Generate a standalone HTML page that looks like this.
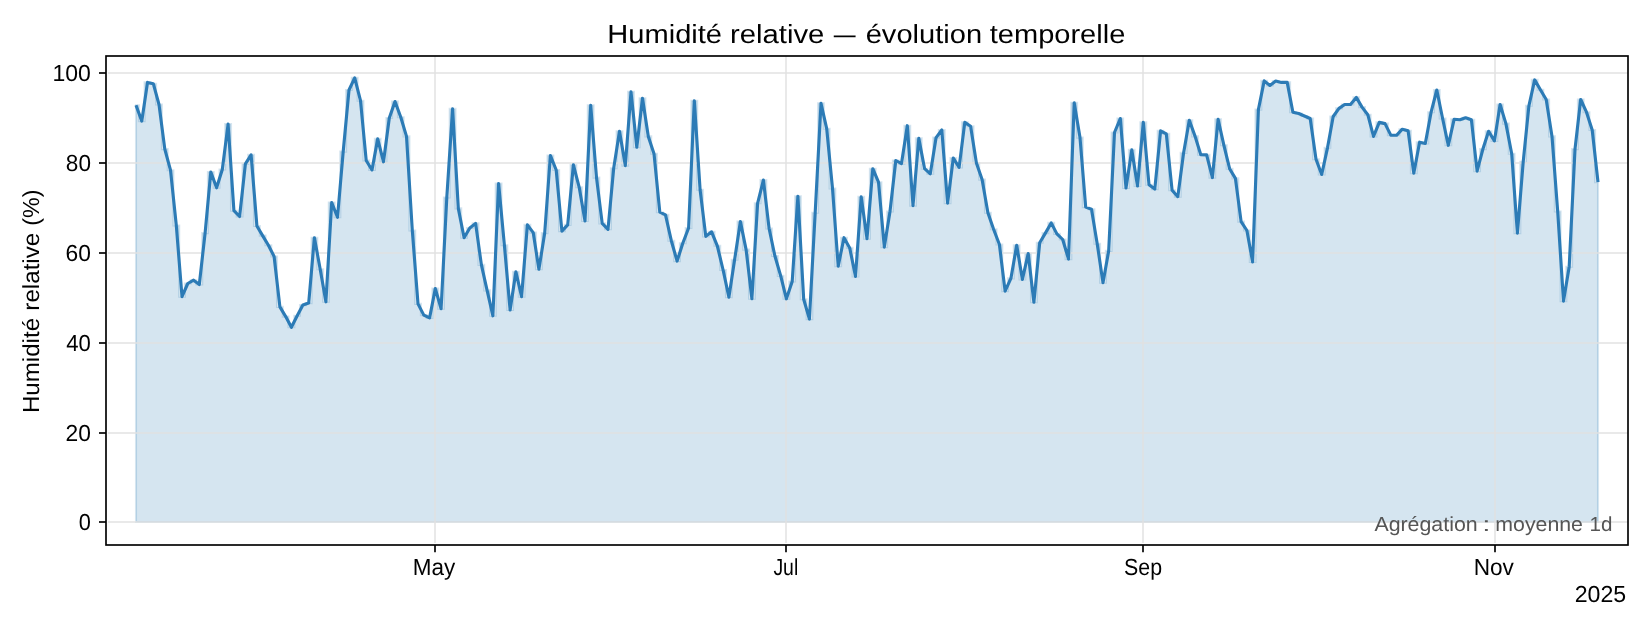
<!DOCTYPE html>
<html lang="fr"><head><meta charset="utf-8"><title>Humidité relative — évolution temporelle</title>
<style>
html,body{margin:0;padding:0;background:#fff;}
body{width:1650px;height:630px;overflow:hidden;font-family:"Liberation Sans",sans-serif;}
svg{display:block;}
text{font-family:"Liberation Sans",sans-serif;fill:#000;text-rendering:geometricPrecision;}
#labels{opacity:0.999;}
</style></head><body>
<svg width="1650" height="630" viewBox="0 0 1650 630">
<rect width="1650" height="630" fill="#fff"/>

<path d="M136 522 L136 105.3 L138.9 105.3 L138.9 121.1 L144.6 121.1 L144.6 82.4 L150.4 82.4 L150.4 83.7 L156.1 83.7 L156.1 104.5 L161.9 104.5 L161.9 149.1 L167.7 149.1 L167.7 170.2 L173.4 170.2 L173.4 225.5 L179.2 225.5 L179.2 296.7 L184.9 296.7 L184.9 283.5 L190.7 283.5 L190.7 280.2 L196.4 280.2 L196.4 284.5 L202.2 284.5 L202.2 233.1 L207.9 233.1 L207.9 172 L213.7 172 L213.7 187.8 L219.5 187.8 L219.5 169.5 L225.2 169.5 L225.2 124.1 L231 124.1 L231 210.7 L236.7 210.7 L236.7 216.5 L242.5 216.5 L242.5 163.9 L248.2 163.9 L248.2 154.9 L254 154.9 L254 226 L259.8 226 L259.8 235.6 L265.5 235.6 L265.5 245.3 L271.3 245.3 L271.3 256.5 L277 256.5 L277 306.9 L282.8 306.9 L282.8 316.6 L288.5 316.6 L288.5 327.3 L294.3 327.3 L294.3 315.8 L300 315.8 L300 305.1 L305.8 305.1 L305.8 303.1 L311.6 303.1 L311.6 237.7 L317.3 237.7 L317.3 269.2 L323.1 269.2 L323.1 301.8 L328.8 301.8 L328.8 202.5 L334.6 202.5 L334.6 217.3 L340.3 217.3 L340.3 151.6 L346.1 151.6 L346.1 90 L351.8 90 L351.8 77.8 L357.6 77.8 L357.6 100.7 L363.4 100.7 L363.4 160.5 L369.1 160.5 L369.1 170 L374.9 170 L374.9 138.9 L380.6 138.9 L380.6 161.8 L386.4 161.8 L386.4 118 L392.1 118 L392.1 101.5 L397.9 101.5 L397.9 117.3 L403.6 117.3 L403.6 136.4 L409.4 136.4 L409.4 230.5 L415.2 230.5 L415.2 303.9 L420.9 303.9 L420.9 315.1 L426.7 315.1 L426.7 317.9 L432.4 317.9 L432.4 288.6 L438.2 288.6 L438.2 308.7 L443.9 308.7 L443.9 197.5 L449.7 197.5 L449.7 108.9 L455.5 108.9 L455.5 208.4 L461.2 208.4 L461.2 237.7 L467 237.7 L467 228 L472.7 228 L472.7 223.4 L478.5 223.4 L478.5 264.9 L484.2 264.9 L484.2 290.4 L490 290.4 L490 315.8 L495.7 315.8 L495.7 183.5 L501.5 183.5 L501.5 245.3 L507.3 245.3 L507.3 310 L513 310 L513 271.8 L518.8 271.8 L518.8 296.7 L524.5 296.7 L524.5 224.9 L530.3 224.9 L530.3 232.6 L536 232.6 L536 269.2 L541.8 269.2 L541.8 233.1 L547.5 233.1 L547.5 155.5 L553.3 155.5 L553.3 170 L559.1 170 L559.1 231.1 L564.8 231.1 L564.8 224.9 L570.6 224.9 L570.6 164.9 L576.3 164.9 L576.3 187.3 L582.1 187.3 L582.1 220.9 L587.8 220.9 L587.8 105.3 L593.6 105.3 L593.6 177.6 L599.3 177.6 L599.3 223.4 L605.1 223.4 L605.1 229.3 L610.9 229.3 L610.9 168.2 L616.6 168.2 L616.6 131.3 L622.4 131.3 L622.4 165.6 L628.1 165.6 L628.1 91.8 L633.9 91.8 L633.9 147.3 L639.6 147.3 L639.6 98.2 L645.4 98.2 L645.4 136.4 L651.2 136.4 L651.2 153.7 L656.9 153.7 L656.9 212.2 L662.7 212.2 L662.7 214.8 L668.4 214.8 L668.4 240.7 L674.2 240.7 L674.2 261.1 L679.9 261.1 L679.9 243.3 L685.7 243.3 L685.7 228 L691.4 228 L691.4 100.7 L697.2 100.7 L697.2 189.8 L703 189.8 L703 236.4 L708.7 236.4 L708.7 231.8 L714.5 231.8 L714.5 245.8 L720.2 245.8 L720.2 270 L726 270 L726 297.2 L731.7 297.2 L731.7 259.8 L737.5 259.8 L737.5 221.6 L743.2 221.6 L743.2 249.6 L749 249.6 L749 298.8 L754.8 298.8 L754.8 203.3 L760.5 203.3 L760.5 180.1 L766.3 180.1 L766.3 228.5 L772 228.5 L772 256 L777.8 256 L777.8 275.9 L783.5 275.9 L783.5 298.8 L789.3 298.8 L789.3 281.5 L795.1 281.5 L795.1 196.2 L800.8 196.2 L800.8 299.3 L806.6 299.3 L806.6 319.1 L812.3 319.1 L812.3 212.7 L818.1 212.7 L818.1 103.3 L823.8 103.3 L823.8 128.7 L829.6 128.7 L829.6 188.5 L835.3 188.5 L835.3 266.2 L841.1 266.2 L841.1 237.7 L846.9 237.7 L846.9 247.9 L852.6 247.9 L852.6 276.4 L858.4 276.4 L858.4 196.9 L864.1 196.9 L864.1 238.7 L869.9 238.7 L869.9 168.7 L875.6 168.7 L875.6 182.2 L881.4 182.2 L881.4 247.1 L887.1 247.1 L887.1 211.5 L892.9 211.5 L892.9 160.5 L898.7 160.5 L898.7 163.6 L904.4 163.6 L904.4 125.7 L910.2 125.7 L910.2 205.6 L915.9 205.6 L915.9 138.4 L921.7 138.4 L921.7 168.7 L927.4 168.7 L927.4 173.8 L933.2 173.8 L933.2 137.6 L938.9 137.6 L938.9 130 L944.7 130 L944.7 203.1 L950.5 203.1 L950.5 158 L956.2 158 L956.2 167.4 L962 167.4 L962 122.4 L967.7 122.4 L967.7 126.2 L973.5 126.2 L973.5 163.1 L979.2 163.1 L979.2 179.6 L985 179.6 L985 212.7 L990.8 212.7 L990.8 229.3 L996.5 229.3 L996.5 244.5 L1002.3 244.5 L1002.3 291.1 L1008 291.1 L1008 278.4 L1013.8 278.4 L1013.8 245.3 L1019.5 245.3 L1019.5 279.4 L1025.3 279.4 L1025.3 253.5 L1031 253.5 L1031 302.3 L1036.8 302.3 L1036.8 242.8 L1042.6 242.8 L1042.6 233.1 L1048.3 233.1 L1048.3 222.9 L1054.1 222.9 L1054.1 233.9 L1059.8 233.9 L1059.8 239.5 L1065.6 239.5 L1065.6 259.1 L1071.3 259.1 L1071.3 102.8 L1077.1 102.8 L1077.1 137.6 L1082.8 137.6 L1082.8 207.1 L1088.6 207.1 L1088.6 209.2 L1094.4 209.2 L1094.4 243.8 L1100.1 243.8 L1100.1 282.7 L1105.9 282.7 L1105.9 250.9 L1111.6 250.9 L1111.6 132.5 L1117.4 132.5 L1117.4 118.5 L1123.1 118.5 L1123.1 188 L1128.9 188 L1128.9 149.9 L1134.6 149.9 L1134.6 186 L1140.4 186 L1140.4 122.4 L1146.2 122.4 L1146.2 184.7 L1151.9 184.7 L1151.9 189.1 L1157.7 189.1 L1157.7 130.8 L1163.4 130.8 L1163.4 133.8 L1169.2 133.8 L1169.2 190.3 L1174.9 190.3 L1174.9 196.7 L1180.7 196.7 L1180.7 152.9 L1186.5 152.9 L1186.5 120.3 L1192.2 120.3 L1192.2 136.4 L1198 136.4 L1198 154.7 L1203.7 154.7 L1203.7 154.9 L1209.5 154.9 L1209.5 177.6 L1215.2 177.6 L1215.2 119.3 L1221 119.3 L1221 145.3 L1226.7 145.3 L1226.7 168.7 L1232.5 168.7 L1232.5 178.4 L1238.3 178.4 L1238.3 221.6 L1244 221.6 L1244 230.5 L1249.8 230.5 L1249.8 261.9 L1255.5 261.9 L1255.5 109.6 L1261.3 109.6 L1261.3 80.9 L1267 80.9 L1267 85.5 L1272.8 85.5 L1272.8 81.1 L1278.5 81.1 L1278.5 82.4 L1284.3 82.4 L1284.3 82.4 L1290.1 82.4 L1290.1 112.2 L1295.8 112.2 L1295.8 113.5 L1301.6 113.5 L1301.6 116 L1307.3 116 L1307.3 118.5 L1313.1 118.5 L1313.1 159.3 L1318.8 159.3 L1318.8 174.5 L1324.6 174.5 L1324.6 147.8 L1330.3 147.8 L1330.3 116.5 L1336.1 116.5 L1336.1 108.4 L1341.9 108.4 L1341.9 104.5 L1347.6 104.5 L1347.6 104.5 L1353.4 104.5 L1353.4 97.4 L1359.1 97.4 L1359.1 107.1 L1364.9 107.1 L1364.9 114.7 L1370.6 114.7 L1370.6 136.4 L1376.4 136.4 L1376.4 122.4 L1382.2 122.4 L1382.2 123.6 L1387.9 123.6 L1387.9 135.1 L1393.7 135.1 L1393.7 135.3 L1399.4 135.3 L1399.4 129.2 L1405.2 129.2 L1405.2 130.8 L1410.9 130.8 L1410.9 173.3 L1416.7 173.3 L1416.7 142.2 L1422.4 142.2 L1422.4 143.5 L1428.2 143.5 L1428.2 112.2 L1434 112.2 L1434 90 L1439.7 90 L1439.7 118.5 L1445.5 118.5 L1445.5 145.3 L1451.2 145.3 L1451.2 119.3 L1457 119.3 L1457 119.8 L1462.7 119.8 L1462.7 117.8 L1468.5 117.8 L1468.5 119.8 L1474.2 119.8 L1474.2 171.2 L1480 171.2 L1480 149.1 L1485.8 149.1 L1485.8 131.3 L1491.5 131.3 L1491.5 140.9 L1497.3 140.9 L1497.3 104.5 L1503 104.5 L1503 123.6 L1508.8 123.6 L1508.8 153.7 L1514.5 153.7 L1514.5 233.1 L1520.3 233.1 L1520.3 161.8 L1526 161.8 L1526 105.8 L1531.8 105.8 L1531.8 79.9 L1537.6 79.9 L1537.6 89.8 L1543.3 89.8 L1543.3 99.5 L1549.1 99.5 L1549.1 136.4 L1554.8 136.4 L1554.8 211.5 L1560.6 211.5 L1560.6 301.1 L1566.3 301.1 L1566.3 266.7 L1572.1 266.7 L1572.1 149.1 L1577.9 149.1 L1577.9 99.5 L1583.6 99.5 L1583.6 112.2 L1589.4 112.2 L1589.4 130 L1595.1 130 L1595.1 182.2 L1598 182.2 L1598 522Z" fill="#2c7bb6" fill-opacity="0.2" stroke="#2c7bb6" stroke-opacity="0.2" stroke-width="2.08" stroke-linejoin="miter"/>
<g stroke="#e0e0e0" stroke-opacity="0.72" stroke-width="2" fill="none">
<line x1="108.0" x2="1628.0" y1="73" y2="73"/>
<line x1="108.0" x2="1628.0" y1="163" y2="163"/>
<line x1="108.0" x2="1628.0" y1="253" y2="253"/>
<line x1="108.0" x2="1628.0" y1="343" y2="343"/>
<line x1="108.0" x2="1628.0" y1="433" y2="433"/>
<line x1="108.0" x2="1628.0" y1="522" y2="522"/>
<line x1="435" x2="435" y1="56.0" y2="543.0"/>
<line x1="786" x2="786" y1="56.0" y2="543.0"/>
<line x1="1143" x2="1143" y1="56.0" y2="543.0"/>
<line x1="1495" x2="1495" y1="56.0" y2="543.0"/>
</g>
<path d="M136 105.3 L141.8 121.1 L147.5 82.4 L153.3 83.7 L159 104.5 L164.8 149.1 L170.5 170.2 L176.3 225.5 L182 296.7 L187.8 283.5 L193.6 280.2 L199.3 284.5 L205.1 233.1 L210.8 172 L216.6 187.8 L222.3 169.5 L228.1 124.1 L233.9 210.7 L239.6 216.5 L245.4 163.9 L251.1 154.9 L256.9 226 L262.6 235.6 L268.4 245.3 L274.1 256.5 L279.9 306.9 L285.7 316.6 L291.4 327.3 L297.2 315.8 L302.9 305.1 L308.7 303.1 L314.4 237.7 L320.2 269.2 L325.9 301.8 L331.7 202.5 L337.5 217.3 L343.2 151.6 L349 90 L354.7 77.8 L360.5 100.7 L366.2 160.5 L372 170 L377.7 138.9 L383.5 161.8 L389.3 118 L395 101.5 L400.8 117.3 L406.5 136.4 L412.3 230.5 L418 303.9 L423.8 315.1 L429.6 317.9 L435.3 288.6 L441.1 308.7 L446.8 197.5 L452.6 108.9 L458.3 208.4 L464.1 237.7 L469.8 228 L475.6 223.4 L481.4 264.9 L487.1 290.4 L492.9 315.8 L498.6 183.5 L504.4 245.3 L510.1 310 L515.9 271.8 L521.6 296.7 L527.4 224.9 L533.2 232.6 L538.9 269.2 L544.7 233.1 L550.4 155.5 L556.2 170 L561.9 231.1 L567.7 224.9 L573.4 164.9 L579.2 187.3 L585 220.9 L590.7 105.3 L596.5 177.6 L602.2 223.4 L608 229.3 L613.7 168.2 L619.5 131.3 L625.3 165.6 L631 91.8 L636.8 147.3 L642.5 98.2 L648.3 136.4 L654 153.7 L659.8 212.2 L665.5 214.8 L671.3 240.7 L677.1 261.1 L682.8 243.3 L688.6 228 L694.3 100.7 L700.1 189.8 L705.8 236.4 L711.6 231.8 L717.3 245.8 L723.1 270 L728.9 297.2 L734.6 259.8 L740.4 221.6 L746.1 249.6 L751.9 298.8 L757.6 203.3 L763.4 180.1 L769.1 228.5 L774.9 256 L780.7 275.9 L786.4 298.8 L792.2 281.5 L797.9 196.2 L803.7 299.3 L809.4 319.1 L815.2 212.7 L821 103.3 L826.7 128.7 L832.5 188.5 L838.2 266.2 L844 237.7 L849.7 247.9 L855.5 276.4 L861.2 196.9 L867 238.7 L872.8 168.7 L878.5 182.2 L884.3 247.1 L890 211.5 L895.8 160.5 L901.5 163.6 L907.3 125.7 L913 205.6 L918.8 138.4 L924.6 168.7 L930.3 173.8 L936.1 137.6 L941.8 130 L947.6 203.1 L953.3 158 L959.1 167.4 L964.8 122.4 L970.6 126.2 L976.4 163.1 L982.1 179.6 L987.9 212.7 L993.6 229.3 L999.4 244.5 L1005.1 291.1 L1010.9 278.4 L1016.7 245.3 L1022.4 279.4 L1028.2 253.5 L1033.9 302.3 L1039.7 242.8 L1045.4 233.1 L1051.2 222.9 L1056.9 233.9 L1062.7 239.5 L1068.5 259.1 L1074.2 102.8 L1080 137.6 L1085.7 207.1 L1091.5 209.2 L1097.2 243.8 L1103 282.7 L1108.7 250.9 L1114.5 132.5 L1120.3 118.5 L1126 188 L1131.8 149.9 L1137.5 186 L1143.3 122.4 L1149 184.7 L1154.8 189.1 L1160.6 130.8 L1166.3 133.8 L1172.1 190.3 L1177.8 196.7 L1183.6 152.9 L1189.3 120.3 L1195.1 136.4 L1200.8 154.7 L1206.6 154.9 L1212.4 177.6 L1218.1 119.3 L1223.9 145.3 L1229.6 168.7 L1235.4 178.4 L1241.1 221.6 L1246.9 230.5 L1252.6 261.9 L1258.4 109.6 L1264.2 80.9 L1269.9 85.5 L1275.7 81.1 L1281.4 82.4 L1287.2 82.4 L1292.9 112.2 L1298.7 113.5 L1304.4 116 L1310.2 118.5 L1316 159.3 L1321.7 174.5 L1327.5 147.8 L1333.2 116.5 L1339 108.4 L1344.7 104.5 L1350.5 104.5 L1356.3 97.4 L1362 107.1 L1367.8 114.7 L1373.5 136.4 L1379.3 122.4 L1385 123.6 L1390.8 135.1 L1396.5 135.3 L1402.3 129.2 L1408.1 130.8 L1413.8 173.3 L1419.6 142.2 L1425.3 143.5 L1431.1 112.2 L1436.8 90 L1442.6 118.5 L1448.3 145.3 L1454.1 119.3 L1459.9 119.8 L1465.6 117.8 L1471.4 119.8 L1477.1 171.2 L1482.9 149.1 L1488.6 131.3 L1494.4 140.9 L1500.1 104.5 L1505.9 123.6 L1511.7 153.7 L1517.4 233.1 L1523.2 161.8 L1528.9 105.8 L1534.7 79.9 L1540.4 89.8 L1546.2 99.5 L1552 136.4 L1557.7 211.5 L1563.5 301.1 L1569.2 266.7 L1575 149.1 L1580.7 99.5 L1586.5 112.2 L1592.2 130 L1598 182.2" fill="none" stroke="#2c7bb6" stroke-width="3.125" stroke-linejoin="round" stroke-linecap="butt"/>
<g stroke="#000" stroke-width="1.67" fill="none">
<line x1="99" x2="106.0" y1="73" y2="73"/>
<line x1="99" x2="106.0" y1="163" y2="163"/>
<line x1="99" x2="106.0" y1="253" y2="253"/>
<line x1="99" x2="106.0" y1="343" y2="343"/>
<line x1="99" x2="106.0" y1="433" y2="433"/>
<line x1="99" x2="106.0" y1="522" y2="522"/>
<line x1="435" x2="435" y1="545.0" y2="552.3"/>
<line x1="786" x2="786" y1="545.0" y2="552.3"/>
<line x1="1143" x2="1143" y1="545.0" y2="552.3"/>
<line x1="1495" x2="1495" y1="545.0" y2="552.3"/>
<rect x="106.0" y="56.0" width="1522.0" height="489" stroke-linejoin="miter"/>
</g>
<g id="labels">
<text y="81" font-size="23.25"><tspan x="52.47" textLength="38.42" lengthAdjust="spacingAndGlyphs">100</tspan></text>
<text y="171" font-size="23.25"><tspan x="65.83" textLength="25.12" lengthAdjust="spacingAndGlyphs">80</tspan></text>
<text y="261" font-size="23.25"><tspan x="65.57" textLength="25.38" lengthAdjust="spacingAndGlyphs">60</tspan></text>
<text y="351" font-size="23.25"><tspan x="66.32" textLength="24.61" lengthAdjust="spacingAndGlyphs">40</tspan></text>
<text y="441" font-size="23.25"><tspan x="65.57" textLength="25.38" lengthAdjust="spacingAndGlyphs">20</tspan></text>
<text y="530" font-size="23.25"><tspan x="78.86" textLength="12.11" lengthAdjust="spacingAndGlyphs">0</tspan></text>
<text y="575" font-size="23.25"><tspan x="412.86" textLength="42.52" lengthAdjust="spacingAndGlyphs">May</tspan></text>
<text y="575" font-size="23.25"><tspan x="773.38" textLength="24.86" lengthAdjust="spacingAndGlyphs">Jul</tspan></text>
<text y="575" font-size="23.25"><tspan x="1124.08" textLength="38.02" lengthAdjust="spacingAndGlyphs">Sep</tspan></text>
<text y="575" font-size="23.25"><tspan x="1473.65" textLength="40.25" lengthAdjust="spacingAndGlyphs">Nov</tspan></text>
<text y="602" font-size="23.25"><tspan x="1574.66" textLength="51.53" lengthAdjust="spacingAndGlyphs">2025</tspan></text>
<text y="43" font-size="26.2"><tspan x="607.30" textLength="114.71" lengthAdjust="spacingAndGlyphs">Humidité</tspan> <tspan x="730.04" textLength="94.37" lengthAdjust="spacingAndGlyphs">relative</tspan> <tspan x="833.80" textLength="21.85" lengthAdjust="spacingAndGlyphs">—</tspan> <tspan x="865.69" textLength="116.44" lengthAdjust="spacingAndGlyphs">évolution</tspan> <tspan x="989.75" textLength="135.57" lengthAdjust="spacingAndGlyphs">temporelle</tspan></text>
<text y="0" font-size="23.25" transform="translate(39.0 411.0) rotate(-90)"><tspan x="-2.07" textLength="95.11" lengthAdjust="spacingAndGlyphs">Humidité</tspan> <tspan x="100.34" textLength="77.95" lengthAdjust="spacingAndGlyphs">relative</tspan> <tspan x="185.30" textLength="36.12" lengthAdjust="spacingAndGlyphs">(%)</tspan></text>
<text y="531" font-size="20.35" style="fill:#555"><tspan x="1374.40" textLength="103.28" lengthAdjust="spacingAndGlyphs">Agrégation</tspan> <tspan x="1482.16" textLength="8.20" lengthAdjust="spacingAndGlyphs">:</tspan> <tspan x="1495.29" textLength="87.71" lengthAdjust="spacingAndGlyphs">moyenne</tspan> <tspan x="1589.58" textLength="22.93" lengthAdjust="spacingAndGlyphs">1d</tspan></text>
</g>
</svg></body></html>
